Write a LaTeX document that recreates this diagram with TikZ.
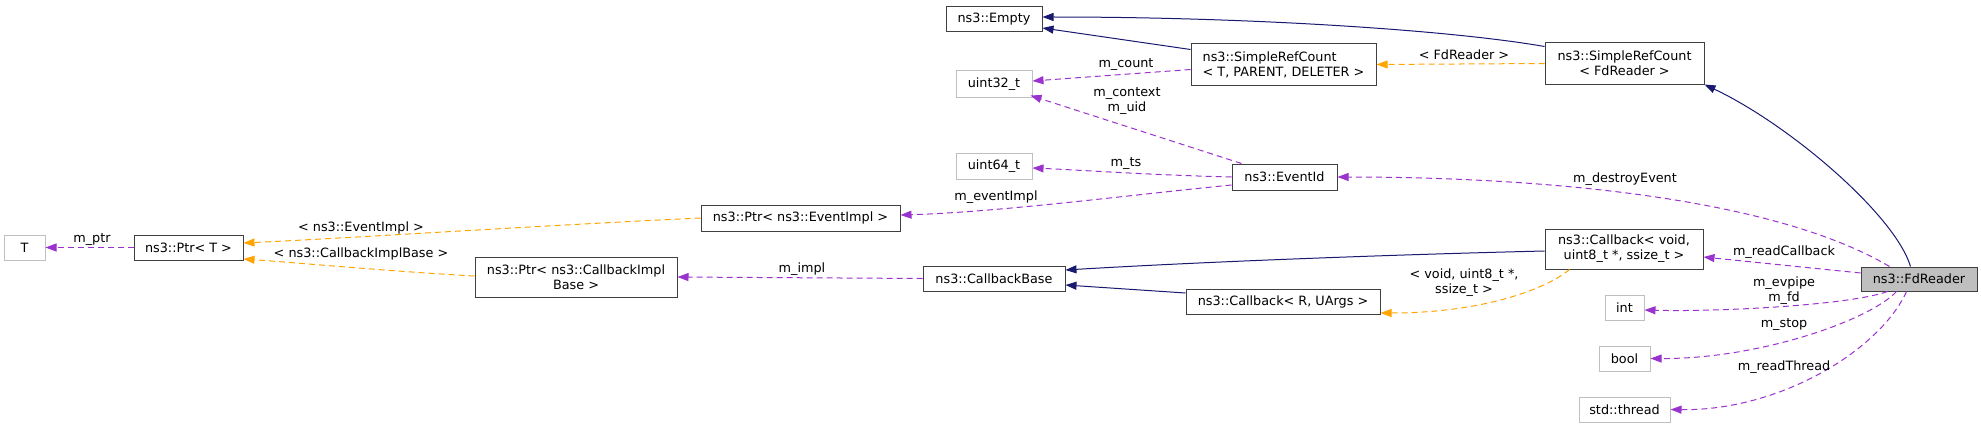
\documentclass[tikz,border=0pt]{standalone}
\usepackage{fontspec}
\setmainfont{DejaVu Sans}
\usetikzlibrary{arrows.meta}
\definecolor{inhc}{HTML}{191970}
\definecolor{usec}{HTML}{9A32CD}
\definecolor{tplc}{HTML}{FFA500}
\definecolor{bord}{HTML}{404040}
\definecolor{lgray}{HTML}{BFBFBF}
\begin{document}
\begin{tikzpicture}[x=1pt,y=-1pt,font=\fontsize{12.8}{15}\selectfont,
  box/.style={draw=bord,line width=1pt,inner sep=0pt,align=center},
  gbox/.style={draw=lgray,line width=1pt,inner sep=0pt,align=center},
  tip/.style={-{Triangle[length=11pt,width=8pt]}},
  inh/.style={draw=inhc,line width=1pt,tip},
  use/.style={draw=usec,line width=1pt,dash pattern=on 6pt off 4pt,tip},
  tpl/.style={draw=tplc,line width=1pt,dash pattern=on 6pt off 4pt,tip},
  lbl/.style={inner sep=0pt,align=center}]
\useasboundingbox (0,0) rectangle (1981,428);
% nodes
\node[box,minimum width=96pt,minimum height=25pt] (empty) at (994,19.5) {ns3::Empty};
\node[box,minimum width=185pt,minimum height=41pt,align=left] (srct) at (1283.5,64.5) {ns3::SimpleRefCount\\< T, PARENT, DELETER >};
\node[box,minimum width=159pt,minimum height=41pt] (srcfd) at (1624.5,63.5) {ns3::SimpleRefCount\\< FdReader >};
\node[gbox,minimum width=76pt,minimum height=26pt] (u32) at (994,84) {uint32\_t};
\node[gbox,minimum width=76pt,minimum height=26pt] (u64) at (994,166) {uint64\_t};
\node[box,minimum width=105pt,minimum height=26pt] (eventid) at (1284.5,177) {ns3::EventId};
\node[box,minimum width=199pt,minimum height=26pt] (ptrev) at (800.5,218) {ns3::Ptr< ns3::EventImpl >};
\node[gbox,minimum width=41pt,minimum height=25pt] (T) at (24.5,247.5) {T};
\node[box,minimum width=109pt,minimum height=25pt] (ptrT) at (188.5,247.5) {ns3::Ptr< T >};
\node[box,minimum width=202pt,minimum height=40pt] (ptrcb) at (576,277) {ns3::Ptr< ns3::CallbackImpl\\Base >};
\node[box,minimum width=142pt,minimum height=25pt] (cbbase) at (994,278.5) {ns3::CallbackBase};
\node[box,minimum width=194pt,minimum height=25pt] (cbR) at (1283,301.5) {ns3::Callback< R, UArgs >};
\node[box,minimum width=158pt,minimum height=40pt] (cbvoid) at (1624,249) {ns3::Callback< void,\\uint8\_t *, ssize\_t >};
\node[box,fill=lgray,minimum width=116pt,minimum height=24pt] (fdr) at (1919,279) {ns3::FdReader};
\node[gbox,minimum width=39pt,minimum height=25pt] (int) at (1624.5,307.5) {int};
\node[gbox,minimum width=51pt,minimum height=25pt] (bool) at (1624.5,358.5) {bool};
\node[gbox,minimum width=91pt,minimum height=25pt] (thread) at (1624.5,409.5) {std::thread};
% inheritance
\draw[inh] ([yshift=-4pt]srcfd.north west) .. controls (1450,30) and (1250,17) .. ([yshift=2.5pt]empty.east);
\draw[inh] ([yshift=-6pt]srct.north west) -- ([yshift=-8.5pt]empty.east);
\draw[inh] ([yshift=-2pt]cbvoid.west) .. controls (1380,255) and (1200,262) .. ([yshift=8.5pt]cbbase.east);
\draw[inh] ([yshift=8.5pt]cbR.west) -- ([yshift=-6.5pt]cbbase.east);
\draw[inh] ([xshift=50pt]fdr.north west) .. controls (1895,215) and (1790,125) .. (srcfd.south east);
% template
\draw[tpl] (srcfd.west) -- (srct.east);
\node[lbl] (l1) at (1464,55) {< FdReader >};
\draw[tpl] (ptrev.west) .. controls (550,225) and (350,238) .. ([yshift=4.5pt]ptrT.east);
\node[lbl] (l2) at (361,228) {< ns3::EventImpl >};
\draw[tpl] ([yshift=1pt]ptrcb.west) .. controls (400,272) and (300,263) .. ([yshift=-11.5pt]ptrT.east);
\node[lbl] (l3) at (361,254) {< ns3::CallbackImplBase >};
\draw[tpl] ([xshift=25pt]cbvoid.south west) .. controls (1545,290) and (1480,313) .. ([yshift=-11.5pt]cbR.east);
\node[lbl] (l4) at (1464,283) {< void, uint8\_t *,\\ssize\_t >};
% usage
\draw[use] ([yshift=-26pt]srct.north west) -- ([yshift=3pt]u32.east);
\node[lbl] (l5) at (1126,65) {m\_count};
\draw[use] ([xshift=10pt]eventid.north west) -- ([xshift=-2pt,yshift=2pt]u32.south east);
\node[lbl] (l6) at (1127,101.5) {m\_context\\m\_uid};
\draw[use] (eventid.west) .. controls (1150,175) and (1080,170) .. ([yshift=-2pt]u64.east);
\node[lbl] (l7) at (1126,164) {m\_ts};
\draw[use] ([yshift=-8pt]eventid.west) .. controls (1130,195) and (1000,212) .. ([yshift=3pt]ptrev.east);
\node[lbl] (l8) at (996,197) {m\_eventImpl};
\draw[use] (ptrT.west) -- (T.east);
\node[lbl] (l9) at (92,240) {m\_ptr};
\draw[use] (cbbase.west) -- (ptrcb.east);
\node[lbl] (l10) at (802,269) {m\_impl};
\draw[use] ([xshift=29pt]fdr.north west) .. controls (1760,190) and (1500,177) .. (eventid.east);
\node[lbl] (l11) at (1625,179) {m\_destroyEvent};
\draw[use] ([yshift=6pt]fdr.west) -- ([yshift=-8pt]cbvoid.east);
\node[lbl] (l12) at (1784,252) {m\_readCallback};
\draw[use] ([xshift=27pt]fdr.south west) .. controls (1850,305) and (1720,312) .. ([yshift=-2.5pt]int.east);
\node[lbl] (l13) at (1784,290.5) {m\_evpipe\\m\_fd};
\draw[use] ([xshift=36pt]fdr.south west) .. controls (1870,320) and (1760,359) .. (bool.east);
\node[lbl] (l14) at (1784,325) {m\_stop};
\draw[use] ([xshift=46pt]fdr.south west) .. controls (1880,350) and (1780,411) .. (thread.east);
\node[lbl] (l15) at (1784,367) {m\_readThread};
\end{tikzpicture}
\end{document}
